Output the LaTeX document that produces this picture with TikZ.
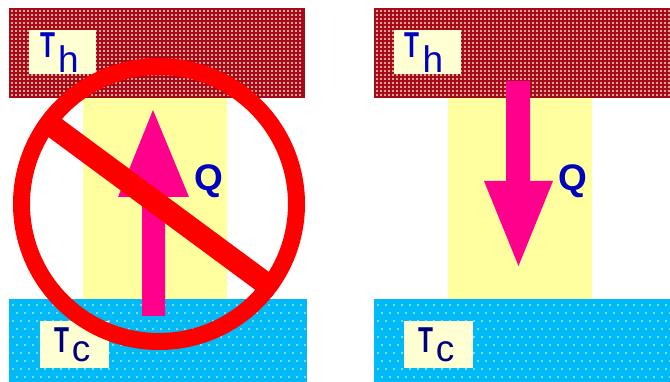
\documentclass[tikz,border=0pt]{standalone}
\usepackage{fontspec}
\setmainfont{Liberation Sans}
\definecolor{hotred}{RGB}{165,10,25}
\definecolor{hotdot}{RGB}{245,215,195}
\definecolor{coldblue}{RGB}{0,185,245}
\definecolor{condyellow}{RGB}{255,255,160}
\definecolor{labelfill}{RGB}{255,255,212}
\definecolor{heatpink}{RGB}{255,0,140}
\definecolor{labelblue}{RGB}{0,0,190}
\definecolor{labelnavy}{RGB}{0,0,125}
\tikzset{
  plain/.style={inner sep=0pt,outer sep=0pt,draw=none},
  hotplate/.style={plain,fill=hotred,anchor=north west,minimum height=90pt},
  coldplate/.style={plain,fill=coldblue,anchor=north west,minimum height=83pt},
  conductor/.style={plain,fill=condyellow,anchor=north west,minimum width=144pt,minimum height=201pt},
  labelbox/.style={plain,fill=labelfill,anchor=north west},
  heatarrow/.style={fill=heatpink,draw=none},
  letterT/.style={inner sep=0pt,font=\fontsize{36}{36}\selectfont\bfseries,xscale=.68},
  letterSub/.style={inner sep=0pt,font=\fontsize{37}{37}\selectfont},
  letterQ/.style={inner sep=0pt,text=labelblue,font=\fontsize{37}{37}\selectfont\bfseries},
}
\newcommand{\hotdots}[2]{%
  \fill[hotdot] foreach \i in {0,...,#2} { foreach \j in {0,...,21} {
    (#1+\i*4,11+\j*4) circle (1.05pt) } };}
\newcommand{\colddots}[2]{%
  \fill[white] foreach \i in {0,...,#2} { foreach \j in {0,...,10} {
    ({#1+\i*8+mod(\j,2)*4},305+\j*8) circle (.8pt) } };}
\begin{document}
\begin{tikzpicture}[x=1pt,y=-1pt]
\useasboundingbox (0,0) rectangle (670,382);
\fill[white] (0,0) rectangle (670,382);
% left panel
\node[hotplate,minimum width=296pt] (hotL) at (9,8) {};
\hotdots{12}{72}
\node[coldplate,minimum width=298pt] (coldL) at (9,299) {};
\colddots{13}{36}
\node[conductor] (condL) at (83,98) {};
\node[labelbox,minimum width=67pt,minimum height=44pt] (boxThL) at (29,30) {};
\node[labelbox,minimum width=69pt,minimum height=47pt] (boxTcL) at (40,321) {};
\node[letterT,text=labelblue] (tThL) at (47.5,45) {T};
\node[letterSub,text=labelblue,anchor=base] (hL) at (68.5,73) {h};
\node[letterT,text=labelnavy] (tTcL) at (61.5,340.5) {T};
\node[letterSub,text=labelnavy,anchor=base] (cL) at (81,362) {c};
\fill[heatarrow] (153,110) -- (189,197) -- (165,197) -- (165,316) -- (142,316) -- (142,197) -- (118,197) -- cycle;
\node[letterQ] (qL) at (209,181) {Q};
% prohibition sign
\coordinate (signC) at (159,204);
\draw[red,line width=17pt] (signC) circle (137.5pt);
\draw[red,line width=22.5pt] (49,123.5) -- (267,284.5);
% right panel
\node[hotplate,minimum width=296pt] (hotR) at (374,8) {};
\hotdots{377}{73}
\node[coldplate,minimum width=296pt] (coldR) at (374,299) {};
\colddots{378}{36}
\node[conductor] (condR) at (448,98) {};
\node[labelbox,minimum width=67pt,minimum height=44pt] (boxThR) at (394,30) {};
\node[labelbox,minimum width=69pt,minimum height=47pt] (boxTcR) at (404,321) {};
\node[letterT,text=labelblue] (tThR) at (412,45) {T};
\node[letterSub,text=labelblue,anchor=base] (hR) at (433,73) {h};
\node[letterT,text=labelnavy] (tTcR) at (426,340.5) {T};
\node[letterSub,text=labelnavy,anchor=base] (cR) at (445,362) {c};
\fill[heatarrow] (506,81) -- (530,81) -- (530,181) -- (553,181) -- (518.5,266) -- (484,181) -- (506,181) -- cycle;
\node[letterQ] (qR) at (573,181) {Q};
\end{tikzpicture}
\end{document}
